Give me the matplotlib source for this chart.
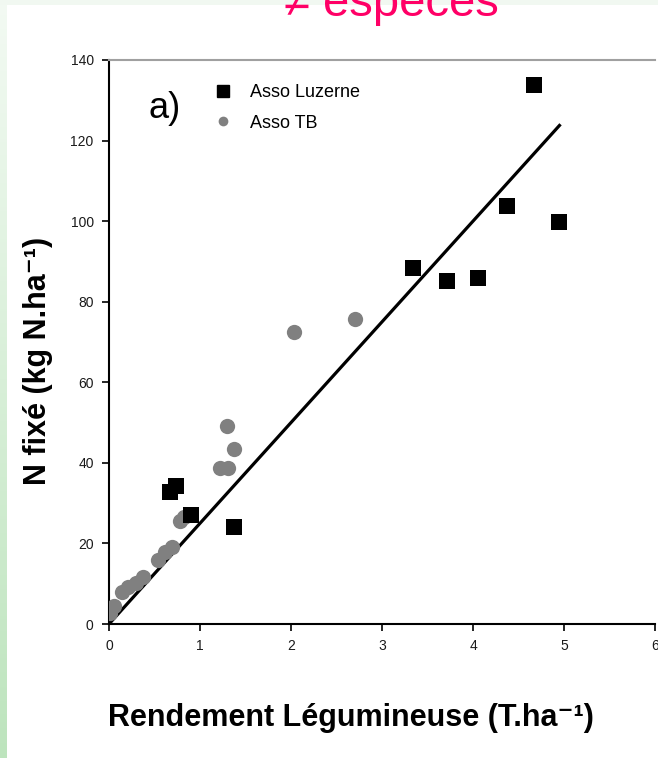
import matplotlib
matplotlib.use("Agg")
import matplotlib.pyplot as plt
import numpy as np
from matplotlib.lines import Line2D
from matplotlib.colors import LinearSegmentedColormap

plt.rcParams['font.family'] = ['Liberation Sans', 'DejaVu Sans']

# ---- data ----
luz_x = [0.67, 0.74, 0.90, 1.37, 3.34, 3.71, 4.05, 4.37, 4.67, 4.94]
luz_y = [32.8, 34.3, 27.0, 24.0, 88.3, 85.2, 85.8, 103.7, 133.7, 99.7]

tb_x = [0.01, 0.05, 0.14, 0.21, 0.30, 0.37, 0.54, 0.61, 0.69,
        0.78, 0.82, 1.22, 1.31, 1.37, 1.30, 2.03, 2.70]
tb_y = [2.7, 4.5, 8.0, 9.2, 10.2, 11.7, 15.9, 17.8, 19.1,
        25.5, 26.5, 38.7, 38.7, 43.4, 49.1, 72.5, 75.7]

fit_slope = 25.0
fit_intercept = 0.0
fit_x = [0.0, 4.95]

x_ticks = [0, 1, 2, 3, 4, 5, 6]
y_ticks = [0, 20, 40, 60, 80, 100, 120, 140]

W, H = 658, 758
fig = plt.figure(figsize=(W / 100, H / 100), dpi=100)
fig.patch.set_facecolor('white')

# background decorations (slide frame)
bg = fig.add_axes([0, 0, 1, 1], zorder=-10)
bg.set_xlim(0, W); bg.set_ylim(H, 0); bg.axis('off')
bg.add_patch(plt.Rectangle((0, 0), W, 5, color='#f1f8f1', lw=0))
cmap = LinearSegmentedColormap.from_list('g', ['#f3faf3', '#bde4bd'])
grad = np.linspace(0, 1, 256).reshape(-1, 1)
bg.imshow(grad, cmap=cmap, extent=(0, 7, H, 0), aspect='auto')
bg.set_xlim(0, W); bg.set_ylim(H, 0)

# title (partly cut off, as in the source slide)
fig.text(391 / W, 1 - 16 / H, '≠ espèces', color='#ff0066', fontsize=34,
         ha='center', va='baseline')

ax = fig.add_axes([109 / W, 1 - 624 / H, 546 / W, 564 / H])
ax.set_xlim(0, 6)
ax.set_ylim(0, 140)

fx = np.array(fit_x)
ax.plot(fx, fit_slope * fx + fit_intercept, color='black', lw=2.3, zorder=2)
ax.plot(tb_x, tb_y, linestyle='none', marker='o', markersize=11,
        color='#808080', markeredgewidth=0, zorder=3)
ax.plot(luz_x, luz_y, linestyle='none', marker='s', markersize=12,
        color='black', markeredgewidth=0, zorder=4)

ax.set_xticks(x_ticks)
ax.set_yticks(y_ticks)
ax.tick_params(direction='out', length=5, width=1.2, labelsize=10,
               labelcolor='#1a1a1a', pad=6)
for s in ['left', 'bottom']:
    ax.spines[s].set_linewidth(1.5)
    ax.spines[s].set_color('black')
ax.spines['top'].set_color('#a0a0a0')
ax.spines['top'].set_linewidth(1.5)
ax.spines['right'].set_visible(False)

ax.set_xlabel('Rendement Légumineuse (T.ha⁻¹)', fontsize=22,
              fontweight='bold', va='center')
ax.xaxis.set_label_coords((351 - 109) / 546, (624 - 718) / 564)
ax.set_ylabel('N fixé (kg N.ha⁻¹)', fontsize=22, fontweight='bold',
              va='center')
ax.yaxis.set_label_coords((38 - 109) / 546, (624 - 361) / 564)

ax.text(148 / W, 1 - 118 / H, 'a)', transform=fig.transFigure,
        fontsize=26, ha='left', va='baseline')

handles = [
    Line2D([], [], linestyle='none', marker='s', markersize=8, color='black'),
    Line2D([], [], linestyle='none', marker='o', markersize=7, color='#808080',
           markeredgewidth=0),
]
ax.legend(handles, ['Asso Luzerne', 'Asso TB'], loc='upper left',
          bbox_to_anchor=(205 / W, 1 - 75 / H), bbox_transform=fig.transFigure,
          frameon=False, fontsize=13, handlelength=1.0, handletextpad=1.0,
          labelspacing=0.75, borderpad=0)

fig.savefig('out.png', dpi=100)
